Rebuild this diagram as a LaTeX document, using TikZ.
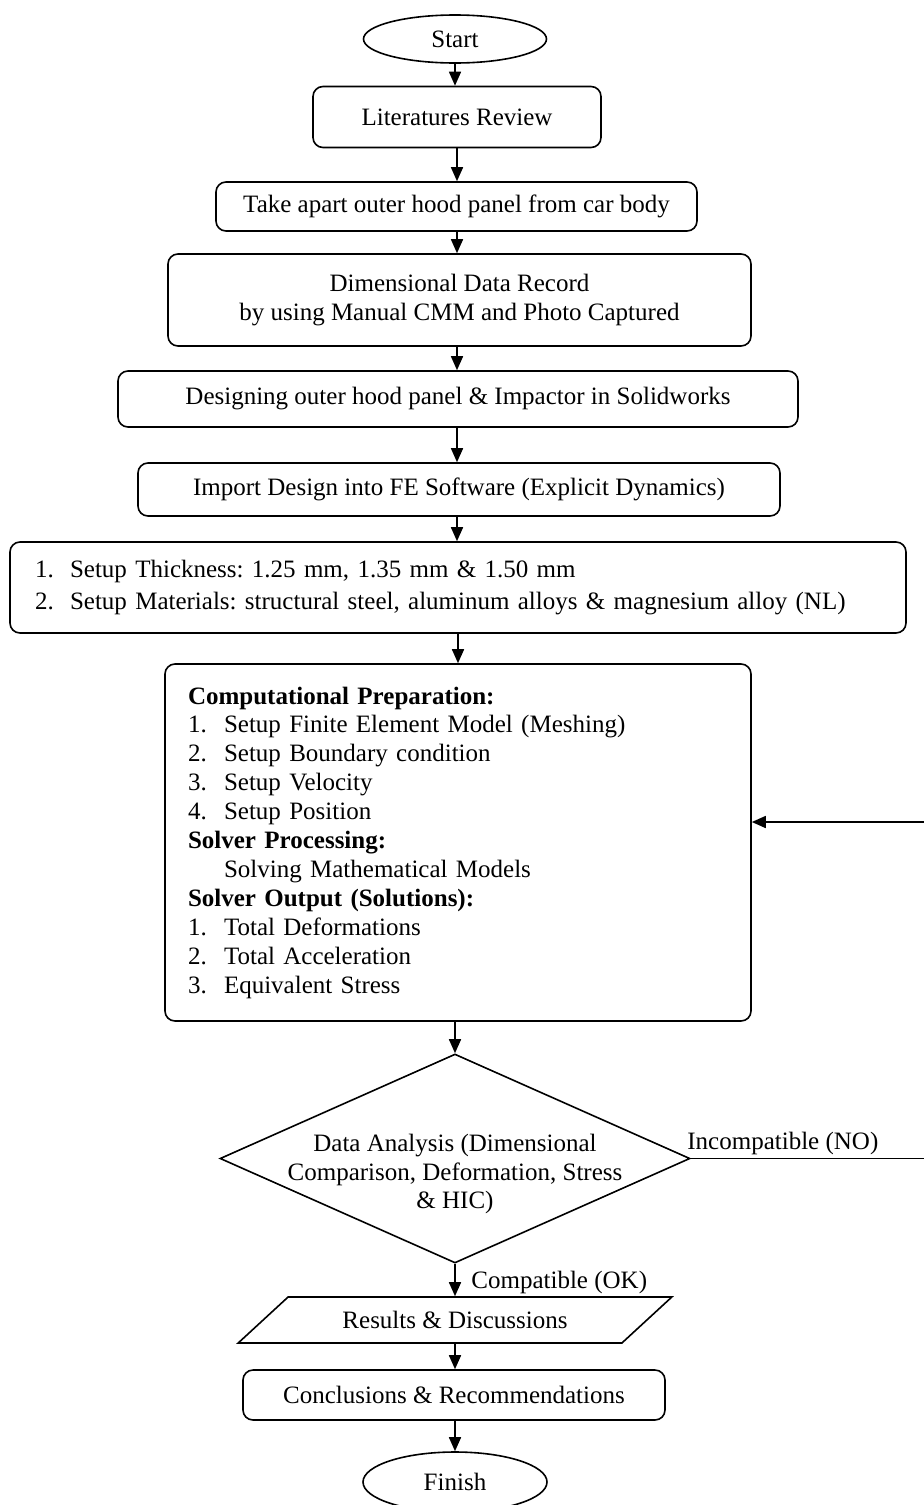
\documentclass[tikz,border=0pt]{standalone}
\usepackage{fontspec}
\setmainfont{Liberation Serif}
\usetikzlibrary{shapes.geometric,arrows.meta}
\begin{document}
\frenchspacing
\begin{tikzpicture}[x=0.5pt,y=-0.5pt,
  font=\fontsize{12.5}{14.45}\selectfont,
  box/.style={draw, rounded corners=5pt, line width=0.8pt, inner sep=0pt, align=center},
  term/.style={draw, ellipse, line width=0.8pt, inner sep=0pt},
  arr/.style={line width=0.8pt, -{Triangle[length=7pt,width=6pt]}},
  lbl/.style={inner sep=0pt}]
\useasboundingbox (0,0) rectangle (923,1505);

\node[term, minimum width=91.5pt, minimum height=24pt] (start) at (455,39) {Start};
\node[box, minimum width=144pt, minimum height=30.5pt] (lit) at (457,117) {Literatures Review};
\node[box, minimum width=240.5pt, minimum height=24.5pt] (take) at (456.5,206.5) {Take apart outer hood panel from car body};
\node[box, minimum width=291.5pt, minimum height=46pt] (dim) at (459.5,300) {Dimensional Data Record\\by using Manual CMM and Photo Captured};
\node[box, minimum width=340pt, minimum height=28pt] (des) at (458,399) {Designing outer hood panel \& Impactor in Solidworks};
\node[box, minimum width=321pt, minimum height=26.5pt] (imp) at (459,489.5) {Import Design into FE Software (Explicit Dynamics)};
\node[box, minimum width=448pt, minimum height=45.5pt, text width=423pt, align=left] (setup) at (458,587.5)
  {\makebox[17.5pt][l]{1.}Setup Thickness: 1.25 mm, 1.35 mm \& 1.50 mm\\[2pt]
   \makebox[17.5pt][l]{2.}Setup Materials: structural steel, aluminum alloys \& magnesium alloy (NL)};
\node[box, minimum width=293pt, minimum height=178.5pt, text width=270pt, align=left] (comp) at (458,842.5)
  {\textbf{Computational Preparation:}\\
   \makebox[18pt][l]{1.}Setup Finite Element Model (Meshing)\\
   \makebox[18pt][l]{2.}Setup Boundary condition\\
   \makebox[18pt][l]{3.}Setup Velocity\\
   \makebox[18pt][l]{4.}Setup Position\\
   \textbf{Solver Processing:}\\
   \hspace*{18pt}Solving Mathematical Models\\
   \textbf{Solver Output (Solutions):}\\
   \makebox[18pt][l]{1.}Total Deformations\\
   \makebox[18pt][l]{2.}Total Acceleration\\
   \makebox[18pt][l]{3.}Equivalent Stress\\[6pt]};
\node[draw, diamond, aspect=2.25, minimum width=235pt, minimum height=104.5pt, inner sep=0pt, line width=0.8pt] (dia) at (455,1158.5) {};
\node[align=center, lbl] (diat) at (455,1174) {Data Analysis (Dimensional\\Comparison, Deformation, Stress\\\& HIC)};
\node[draw, trapezium, trapezium left angle=27.6, trapezium right angle=152.4, trapezium stretches=true,
  minimum width=217pt, minimum height=23pt, inner sep=0pt, line width=0.8pt] (res) at (455,1320) {\raisebox{-1pt}{Results \& Discussions}};
\node[box, minimum width=211pt, minimum height=25pt] (conc) at (454,1395) {Conclusions \& Recommendations};
\node[term, minimum width=92pt, minimum height=30pt] (fin) at (455,1482) {Finish};

\node[lbl, anchor=base west] (nolab) at (687,1149) {Incompatible (NO)};
\node[lbl, anchor=base west] (oklab) at (471,1288) {Compatible (OK)};

\draw[arr] (start.south) -- (start.south |- lit.north);
\draw[arr] (lit.south) -- (lit.south |- take.north);
\draw[arr] (take.south -| lit.south) -- (lit.south |- dim.north);
\draw[arr] (dim.south -| lit.south) -- (lit.south |- des.north);
\draw[arr] (des.south -| lit.south) -- (lit.south |- imp.north);
\draw[arr] (imp.south -| lit.south) -- (lit.south |- setup.north);
\draw[arr] (setup.south) -- (setup.south |- comp.north);
\draw[arr] (comp.south -| dia.north) -- (dia.north);
\draw[arr] (dia.south) -- (dia.south |- res.north);
\draw[arr] (res.south -| dia.south) -- (dia.south |- conc.north);
\draw[arr] (conc.south -| dia.south) -- (dia.south |- fin.north);

\coordinate (fb1) at (930,1158.5);
\coordinate (fb2) at (930,822);
\draw[arr] (dia.east) -- (fb1) -- (fb2) -- (fb2 -| comp.east);
\end{tikzpicture}
\end{document}
